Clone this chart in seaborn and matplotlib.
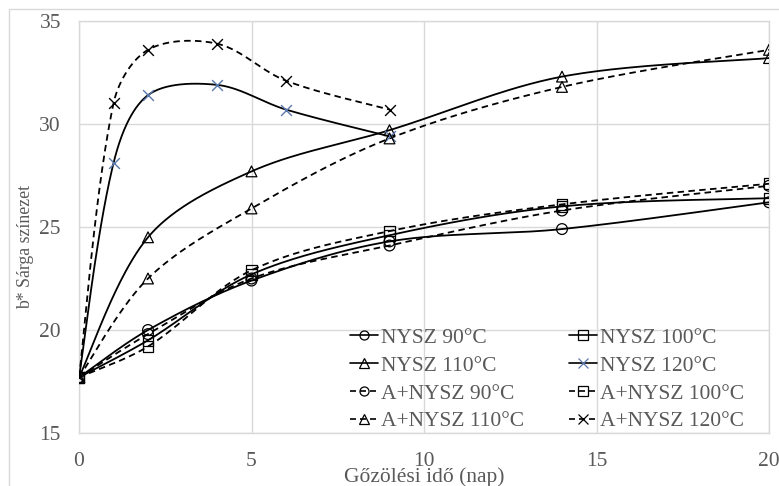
import numpy as np
import pandas as pd
import matplotlib
matplotlib.use("Agg")
import matplotlib.pyplot as plt
from matplotlib.lines import Line2D
from matplotlib.patches import Rectangle
import seaborn as sns

# Steaming time (days) and b* yellowness values per series
days_a = [0, 2, 5, 9, 14, 20]
days_b = [0, 1, 2, 4, 6, 9]

nysz_90 = [17.7, 20.0, 22.4, 24.3, 24.9, 26.2]
nysz_100 = [17.7, 19.5, 22.7, 24.6, 26.0, 26.4]
nysz_110 = [17.7, 24.5, 27.7, 29.7, 32.3, 33.2]
nysz_120 = [17.7, 28.1, 31.4, 31.9, 30.7, 29.4]
a_nysz_90 = [17.7, 19.8, 22.5, 24.1, 25.8, 27.0]
a_nysz_100 = [17.7, 19.2, 22.9, 24.8, 26.1, 27.1]
a_nysz_110 = [17.7, 22.5, 25.9, 29.3, 31.8, 33.6]
a_nysz_120 = [17.7, 31.0, 33.6, 33.9, 32.1, 30.7]

labels = ["NYSZ 90°C", "NYSZ 100°C", "NYSZ 110°C", "NYSZ 120°C",
          "A+NYSZ 90°C", "A+NYSZ 100°C", "A+NYSZ 110°C", "A+NYSZ 120°C"]

x_ticks = [0, 5, 10, 15, 20]
y_ticks = [15, 20, 25, 30, 35]

series = [
    (labels[0], days_a, nysz_90, "o", "solid", "black"),
    (labels[1], days_a, nysz_100, "s", "solid", "black"),
    (labels[2], days_a, nysz_110, "^", "solid", "black"),
    (labels[3], days_b, nysz_120, "x", "solid", "#5a78ad"),
    (labels[4], days_a, a_nysz_90, "o", "dashed", "black"),
    (labels[5], days_a, a_nysz_100, "s", "dashed", "black"),
    (labels[6], days_a, a_nysz_110, "^", "dashed", "black"),
    (labels[7], days_b, a_nysz_120, "x", "dashed", "black"),
]

# screen scale (pixels per data unit) used for the smoothing geometry
X_SCALE = 690 / 20
Y_SCALE = 412 / 20


def smooth_curve(xs, ys, n=50):
    """Cubic Bezier smoothing; control arms weighted by neighbouring chord lengths."""
    p = np.column_stack([np.asarray(xs, float) * X_SCALE,
                         np.asarray(ys, float) * Y_SCALE])
    m = len(p)
    d = np.linalg.norm(np.diff(p, axis=0), axis=1)
    tangents = np.zeros_like(p)
    for i in range(m):
        a = p[max(i - 1, 0)]
        b = p[min(i + 1, m - 1)]
        tangents[i] = b - a
    out = []
    for i in range(m - 1):
        p1, p2 = p[i], p[i + 1]
        if 0 < i:
            w1 = d[i] / (d[i - 1] + d[i]) / 3.0
        else:
            w1 = 1 / 6.0
        if i + 1 < m - 1:
            w2 = d[i] / (d[i] + d[i + 1]) / 3.0
        else:
            w2 = 1 / 6.0
        c1 = p1 + tangents[i] * w1
        c2 = p2 - tangents[i + 1] * w2
        t = np.linspace(0, 1, n)[:, None]
        seg = ((1 - t) ** 3) * p1 + 3 * ((1 - t) ** 2) * t * c1 \
            + 3 * (1 - t) * t ** 2 * c2 + t ** 3 * p2
        out.append(seg if i == 0 else seg[1:])
    pts = np.vstack(out)
    return pts[:, 0] / X_SCALE, pts[:, 1] / Y_SCALE


sns.set_theme(style="white")
plt.rcParams["font.family"] = ["Liberation Serif", "DejaVu Serif"]
text_color = "#595959"
grid_color = "#d9d9d9"
fs = 15.5

fig = plt.figure(figsize=(7.79, 4.86), dpi=100)
ax = fig.add_axes([79 / 779, 1 - 433 / 486, 690 / 779, 412 / 486])

dash_pattern = (0, (3.6, 2.4))
line_w = 1.3

handles = []
for name, xs, ys, mk, style, mcolor in series:
    sx, sy = smooth_curve(xs, ys)
    ls = "-" if style == "solid" else dash_pattern
    curve = pd.DataFrame({"x": sx, "y": sy})
    sns.lineplot(data=curve, x="x", y="y", ax=ax, color="black", lw=line_w,
                 linestyle=ls, sort=False, estimator=None, zorder=3)
    pts = pd.DataFrame({"x": xs, "y": ys})
    if mk == "x":
        sns.scatterplot(data=pts, x="x", y="y", ax=ax, marker="x", s=60,
                        color=mcolor, linewidth=1.0, zorder=4)
    else:
        sns.scatterplot(data=pts, x="x", y="y", ax=ax, marker=mk, s=60,
                        facecolors="none", edgecolor="black", linewidth=0.9, zorder=4)
    handles.append(Line2D([], [], color="black", lw=1.2, linestyle=ls,
                          marker=mk, markersize=6.5,
                          markerfacecolor="none" if mk != "x" else mcolor,
                          markeredgecolor=mcolor, markeredgewidth=0.9, label=name))

ax.set_xlim(0, 20)
ax.set_ylim(15, 35)
ax.set_xticks(x_ticks)
ax.set_yticks(y_ticks)
ax.grid(True, color=grid_color, lw=1.0, zorder=0)
for sp in ax.spines.values():
    sp.set_color(grid_color)
    sp.set_linewidth(1.0)
ax.tick_params(axis="both", length=0, labelsize=fs, labelcolor=text_color)
ax.tick_params(axis="x", pad=14)
ax.tick_params(axis="y", pad=13)

ax.set_xlabel("Gőzölési idő (nap)", fontsize=fs, color=text_color, va="center")
ax.xaxis.set_label_coords(0.5, -0.106)
ax.set_ylabel("b* Sárga színezet", fontsize=12.8, color=text_color, va="center")
ax.yaxis.set_label_coords(-0.077, 0.451)

# legend filled row by row: two columns
order = [0, 2, 4, 6, 1, 3, 5, 7]
leg = ax.legend(handles=[handles[i] for i in order], ncol=2, loc="lower left",
                bbox_to_anchor=(0.393, 0.004), frameon=False, fontsize=fs,
                handlelength=1.3, handletextpad=0.15, columnspacing=2.05,
                labelspacing=0.36, borderpad=0, borderaxespad=0,
                labelcolor=text_color)

# Outer chart frame
fig.add_artist(Rectangle((9 / 779, -0.1), 1.2, 1 - 9 / 486 + 0.1,
                         transform=fig.transFigure, fill=False,
                         edgecolor=grid_color, lw=1.0))

fig.savefig("out.png", dpi=100)
